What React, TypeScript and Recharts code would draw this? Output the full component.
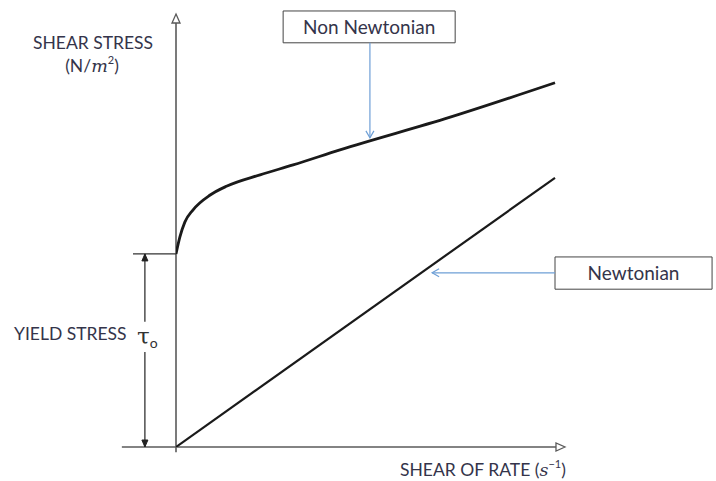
import React from 'react';
import {
  ComposedChart,
  Line,
  XAxis,
  YAxis,
  ReferenceLine,
  ReferenceArea,
  Label,
} from 'recharts';

// shear rate (x) vs shear stress (y), arbitrary units
const nonNewtonianX = [0, 0.1, 0.23, 0.44, 0.89, 1.33, 2.19, 3.05, 4.27, 7.14, 9.87];
const nonNewtonianY = [4.49, 4.88, 5.23, 5.51, 5.86, 6.07, 6.33, 6.56, 6.91, 7.67, 8.47];
const newtonianX = [0, 9.87];
const newtonianY = [0, 6.26];

const YIELD = 4.49;

const nonNewtonian = nonNewtonianX.map((x, i) => ({ x, y: nonNewtonianY[i] }));
const newtonian = newtonianX.map((x, i) => ({ x, y: newtonianY[i] }));

const TEXT = '#34344a';
const AXIS = '#5a5a5a';
const CALLOUT = '#6e9fd6';
const FONT = 'Lato, "Open Sans", sans-serif';

type Head = 'open' | 'filled' | 'chevron';

const head = (kind: Head, tx: number, ty: number, fx: number, fy: number, color: string, len: number, half: number) => {
  const a = Math.atan2(ty - fy, tx - fx);
  const bx = tx - Math.cos(a) * len;
  const by = ty - Math.sin(a) * len;
  const px = -Math.sin(a) * half;
  const py = Math.cos(a) * half;
  if (kind === 'chevron') {
    return (
      <polyline
        points={`${bx + px},${by + py} ${tx},${ty} ${bx - px},${by - py}`}
        fill="none"
        stroke={color}
        strokeWidth={1.2}
      />
    );
  }
  return (
    <polygon
      points={`${tx},${ty} ${bx + px},${by + py} ${bx - px},${by - py}`}
      fill={kind === 'open' ? '#fff' : color}
      stroke={color}
      strokeWidth={kind === 'open' ? 1.3 : 1}
    />
  );
};

const arrowLine =
  (kind: Head, both: boolean, color: string, width: number, len = 8, half = 4) =>
  (p: any) => {
    const { x1, y1, x2, y2 } = p;
    const a = Math.atan2(y2 - y1, x2 - x1);
    const ex = kind === 'open' ? x2 - Math.cos(a) * len : x2;
    const ey = kind === 'open' ? y2 - Math.sin(a) * len : y2;
    return (
      <g>
        <line x1={x1} y1={y1} x2={ex} y2={ey} stroke={color} strokeWidth={width} />
        {head(kind, x2, y2, x1, y1, color, len, half)}
        {both && head(kind, x1, y1, x2, y2, color, len, half)}
      </g>
    );
  };

export default function App() {
  return (
    <div style={{ position: 'absolute', left: 0, top: 0, background: '#fff' }}>
      <ComposedChart
        width={716}
        height={481}
        margin={{ top: 17, right: 156, bottom: 34, left: 176 }}
      >
        <XAxis type="number" dataKey="x" domain={[0, 10]} hide allowDataOverflow />
        <YAxis type="number" dataKey="y" domain={[0, 10]} hide allowDataOverflow />

        {/* axes */}
        <ReferenceLine
          segment={[{ x: 0, y: -0.12 }, { x: 0, y: 10.07 }]}
          ifOverflow="visible"
          shape={arrowLine('open', false, AXIS, 1.6, 9, 4)}
        />
        <ReferenceLine
          segment={[{ x: -1.41, y: 0 }, { x: 10.13, y: 0 }]}
          ifOverflow="visible"
          shape={arrowLine('open', false, AXIS, 1.6, 9, 4)}
        />

        {/* yield stress marker */}
        <ReferenceLine
          segment={[{ x: -1.12, y: YIELD }, { x: 0, y: YIELD }]}
          ifOverflow="visible"
          stroke="#333"
          strokeWidth={1.3}
        />
        <ReferenceLine
          segment={[{ x: -0.81, y: 2.91 }, { x: -0.81, y: YIELD }]}
          ifOverflow="visible"
          shape={arrowLine('filled', false, '#222', 1.2, 7, 3)}
        />
        <ReferenceLine
          segment={[{ x: -0.81, y: 2.21 }, { x: -0.81, y: 0 }]}
          ifOverflow="visible"
          shape={arrowLine('filled', false, '#222', 1.2, 7, 3)}
        />

        <Line
          data={newtonian}
          dataKey="y"
          type="linear"
          stroke="#1a1a1a"
          strokeWidth={2.2}
          dot={false}
          isAnimationActive={false}
        />
        <Line
          data={nonNewtonian}
          dataKey="y"
          type="monotone"
          stroke="#1a1a1a"
          strokeWidth={2.8}
          dot={false}
          isAnimationActive={false}
        />

        {/* callouts */}
        <ReferenceLine
          segment={[{ x: 5.05, y: 9.4 }, { x: 5.05, y: 7.19 }]}
          ifOverflow="visible"
          shape={arrowLine('chevron', false, CALLOUT, 1.2, 7, 4)}
        />
        <ReferenceArea
          x1={2.79}
          x2={7.27}
          y1={9.4}
          y2={10.14}
          ifOverflow="visible"
          fill="#fff"
          fillOpacity={1}
          stroke="#444"
          strokeWidth={1}
        >
          <Label value="Non Newtonian" position="center" fill={TEXT} fontSize={19} fontFamily={FONT} />
        </ReferenceArea>
        <ReferenceLine
          segment={[{ x: 9.87, y: 4.05 }, { x: 6.67, y: 4.05 }]}
          ifOverflow="visible"
          shape={arrowLine('chevron', false, CALLOUT, 1.2, 7, 4)}
        />
        <ReferenceArea
          x1={9.87}
          x2={13.96}
          y1={3.67}
          y2={4.42}
          ifOverflow="visible"
          fill="#fff"
          fillOpacity={1}
          stroke="#444"
          strokeWidth={1}
        >
          <Label value="Newtonian" position="center" fill={TEXT} fontSize={19} fontFamily={FONT} />
        </ReferenceArea>

        {/* axis titles */}
        <text x={93} y={49} textAnchor="middle" fill={TEXT} fontSize={17.5} fontFamily={FONT}>
          SHEAR STRESS
        </text>
        <text x={92} y={72} textAnchor="middle" fill={TEXT} fontSize={17.5} fontFamily={FONT}>
          (N/
          <tspan fontFamily="'DejaVu Serif', serif" fontStyle="italic">m</tspan>
          <tspan fontSize={11} dy={-8}>2</tspan>
          <tspan dy={8}>)</tspan>
        </text>
        <text x={14} y={340} fill={TEXT} fontSize={17.5} fontFamily={FONT}>
          YIELD STRESS
        </text>
        <text x={137} y={344} fill="#333" fontSize={23} fontFamily="'DejaVu Serif', serif">
          τ<tspan fontSize={14} dy={4} fontFamily={FONT}>o</tspan>
        </text>
        <text x={400} y={476} fill={TEXT} fontSize={17.5} fontFamily={FONT}>
          SHEAR OF RATE (
          <tspan fontFamily="'DejaVu Serif', serif" fontStyle="italic">s</tspan>
          <tspan fontSize={11} dy={-8}>−1</tspan>
          <tspan dy={8}>)</tspan>
        </text>
      </ComposedChart>
    </div>
  );
}
